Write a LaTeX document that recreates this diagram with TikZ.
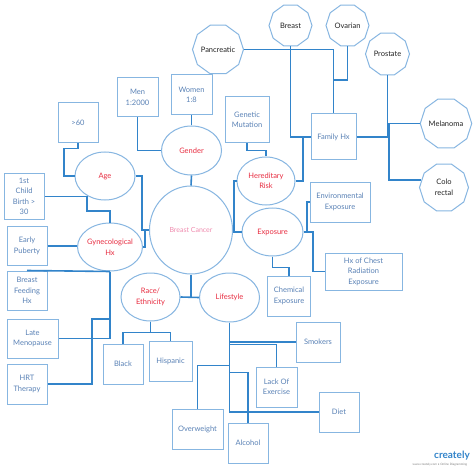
\documentclass[tikz,border=0pt]{standalone}
\usepackage{fontspec}
\setmainfont{Lato}
\usetikzlibrary{shapes.geometric}
\definecolor{lineblue}{RGB}{50,132,202}
\definecolor{bordc}{RGB}{135,182,225}
\definecolor{boxtxt}{RGB}{90,130,182}
\definecolor{redtxt}{RGB}{232,45,65}
\definecolor{pinktxt}{RGB}{240,140,175}
\definecolor{octtxt}{RGB}{35,35,35}
\begin{document}
\begin{tikzpicture}[x=1pt,y=-1pt,
  boxn/.style={draw=bordc, line width=1pt, text=boxtxt, align=center, inner sep=0pt,
    font=\fontsize{7.5}{10.5}\selectfont},
  ell/.style={ellipse, draw=bordc, line width=1pt, text=redtxt, align=center, inner sep=0pt,
    font=\fontsize{7.5}{10.5}\selectfont},
  oct/.style={regular polygon, regular polygon sides=10, draw=bordc, line width=1pt,
    text=octtxt, align=center, inner sep=0pt, font=\fontsize{7.5}{10.5}\selectfont},
  conn/.style={draw=lineblue, line width=1.6pt}]
\useasboundingbox (0,0) rectangle (474,468);
\fill[white] (0,0) rectangle (474,468);

% octagons
\node[oct, minimum size=47pt] (pan) at (218,49.5) {Pancreatic};
\node[oct, minimum size=43pt] (brst) at (290.5,25.5) {Breast};
\node[oct, minimum size=43pt] (ova) at (347.5,25.5) {Ovarian};
\node[oct, minimum size=44pt] (pro) at (387.5,54) {Prostate};
\node[oct, minimum size=48pt] (mel) at (446,123.5) {Melanoma};
\node[oct, minimum size=49pt] (col) at (444,187.5) {Colo\\rectal};

% boxes
\node[boxn, minimum width=41pt, minimum height=39pt] (men) at (137.5,97.5) {Men\\1:2000};
\node[boxn, minimum width=41pt, minimum height=40pt] (wom) at (191.5,95) {Women\\1:8};
\node[boxn, minimum width=40pt, minimum height=40pt] (gt60) at (78,123) {>60};
\node[boxn, minimum width=44pt, minimum height=46pt] (gen) at (247,120) {Genetic\\Mutation};
\node[boxn, minimum width=45pt, minimum height=46pt] (fam) at (333.5,137) {Family Hx};
\node[boxn, minimum width=60pt, minimum height=40pt] (env) at (340,202) {Environmental\\Exposure};
\node[boxn, minimum width=77pt, minimum height=37pt] (chest) at (363.5,271.5) {Hx of Chest\\Radiation\\Exposure};
\node[boxn, minimum width=43pt, minimum height=40pt] (chem) at (289,296) {Chemical\\Exposure};
\node[boxn, minimum width=44pt, minimum height=40pt] (smk) at (318,342) {Smokers};
\node[boxn, minimum width=41pt, minimum height=40pt] (lack) at (276.5,387) {Lack Of\\Exercise};
\node[boxn, minimum width=40pt, minimum height=40pt] (diet) at (339,412) {Diet};
\node[boxn, minimum width=40pt, minimum height=40pt] (alc) at (248,443) {Alcohol};
\node[boxn, minimum width=51pt, minimum height=40pt] (ovw) at (197.5,429) {Overweight};
\node[boxn, minimum width=40pt, minimum height=40pt] (blk) at (123,364) {Black};
\node[boxn, minimum width=43pt, minimum height=40pt] (his) at (170.5,361) {Hispanic};
\node[boxn, minimum width=40pt, minimum height=40pt] (hrt) at (27,384) {HRT\\Therapy};
\node[boxn, minimum width=51pt, minimum height=39pt] (late) at (32.5,338.5) {Late\\Menopause};
\node[boxn, minimum width=40pt, minimum height=39pt] (feed) at (27,290.5) {Breast\\Feeding\\Hx};
\node[boxn, minimum width=40pt, minimum height=39pt] (puber) at (27,246) {Early\\Puberty};
\node[boxn, minimum width=40pt, minimum height=45pt] (child) at (24,196.5) {1st\\Child\\Birth >\\30};

% ellipses
\node[ell, minimum width=60pt, minimum height=49pt] (gender) at (191.5,150.5) {Gender};
\node[ell, minimum width=60pt, minimum height=48pt] (age) at (105,176) {Age};
\node[ell, minimum width=58pt, minimum height=48pt] (hered) at (266,181) {Hereditary\\Risk};
\node[ell, minimum width=61pt, minimum height=48pt] (expo) at (272.5,232) {Exposure};
\node[ell, minimum width=83pt, minimum height=88pt, text=pinktxt,
  font=\fontsize{7}{10}\selectfont] (bc) at (191,230) {Breast Cancer};
\node[ell, minimum width=58pt, minimum height=48pt] (gyn) at (110,247) {Gynecological\\Hx};
\node[ell, minimum width=59pt, minimum height=48pt] (race) at (150.5,297) {Race/\\Ethnicity};
\node[ell, minimum width=60pt, minimum height=49pt] (life) at (229.5,297.5) {Lifestyle};

% junction points
\coordinate (j1) at (333.5,80);
\coordinate (j2) at (389,137);

% connectors
\draw[conn] (men.south) |- (gender.west);
\draw[conn] (wom.south) -- (gender.north);
\draw[conn] (gender.south) -- (bc.north);
\draw[conn] (gt60.south) -- ++(0,5) -| (64,176) -- (age.west);
\draw[conn] (age.east) -| (142,230) -- (bc.west);
\draw[conn] (gyn.east) -| (145,230) -- (bc.west);
\draw[conn] (child.east) -| (87,211) -| (gyn.north);
\draw[conn] (puber.east) -- (puber.east -| gyn.west);
\draw[conn] (feed.north) -- (gyn.south);
\draw[conn] (late.east) -| (gyn.south);
\draw[conn] (hrt.east) -| (92,319) -| (gyn.south);
\draw[conn] (gen.south) -- ++(0,7) -| (hered.north);
\draw[conn] (hered.west) -| (234,230) -- (bc.east);
\draw[conn] (expo.west) -- (expo.west -| bc.east);
\draw[conn] (hered.east) -| (303,137) -- (fam.west);
\draw[conn] (brst.south) |- (fam.west);
\draw[conn] (pan.east) -| (fam.north);
\draw[conn] (ova.south) |- (j1);
\draw[conn] (pro.south) |- (fam.east);
\draw[conn] (mel.west) -| (j2);
\draw[conn] (col.161) -| (j2);
\draw[conn] (expo.east) -| (307,202) -- (env.west);
\draw[conn] (expo.east) -- (313,232) |- (chest.west);
\draw[conn] (expo.south) -- ++(0,11) -| (chem.north);
\draw[conn] (bc.south) -- (bc.south |- race.east);
\draw[conn] (race.east) -- (life.west);
\draw[conn] (race.south) -- ++(0,11) -| (blk.north);
\draw[conn] (race.south) -- ++(0,11) -| (his.north);
\draw[conn] (life.south) |- (diet.west);
\draw[conn] (smk.west) -| (life.south);
\draw[conn] (lack.north) -- ++(0,-22) -| (life.south);
\draw[conn] (ovw.north) -- ++(0,-43) -| (life.south);
\draw[conn] (alc.north) -- ++(0,-50) -| (life.south);

% logo
\node[text=lineblue, font=\fontsize{10}{10}\bfseries, inner sep=0pt] (logo) at (452,456) {creately};
\node[text=gray, font=\fontsize{3}{3}\selectfont, inner sep=0pt] (logosub) at (440,464.5) {www.creately.com • Online Diagramming};
\end{tikzpicture}
\end{document}
